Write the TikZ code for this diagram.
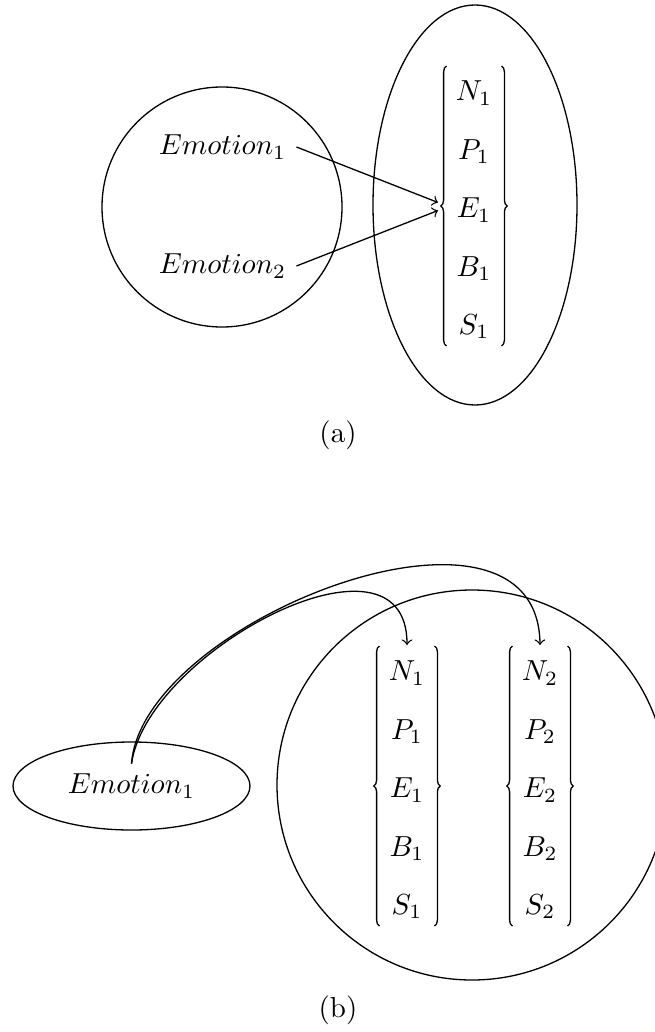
\documentclass[tikz,border=0pt]{standalone}
\usetikzlibrary{calc,decorations.pathreplacing}
\begin{document}
\begin{tikzpicture}[x=0.345pt,y=-0.345pt,
  shapeline/.style={draw, line width=0.45pt},
  link/.style={->, line width=0.45pt},
  col/.style={inner sep=0pt},
  bracestyle/.style={draw, line width=0.45pt, decorate, decoration={brace, amplitude=2pt}}]
\useasboundingbox (0,0) rectangle (655,1032);
% ---------- (a) ----------
\draw[shapeline] (222,207) circle[radius=120];
\draw[shapeline] (475,205) ellipse[x radius=102, y radius=200];
\node (ea1) at (222.5,147) {$Emotion_1$};
\node (ea2) at (222.5,266) {$Emotion_2$};
\node[col] (colA) at (474,206) {\def\arraystretch{1.68}$\begin{array}{c}N_1\\P_1\\E_1\\B_1\\S_1\end{array}$};
\draw[bracestyle] ($(colA.center)+(-27.5,140)$) -- ($(colA.center)+(-27.5,-140)$);
\draw[bracestyle] ($(colA.center)+(27.5,-140)$) -- ($(colA.center)+(27.5,140)$);
\coordinate (ta1) at ($(colA.center)+(-36,-3.5)$);
\coordinate (ta2) at ($(colA.center)+(-36,4.5)$);
\draw[link] (ea1.east) -- (ta1);
\draw[link] (ea2.east) -- (ta2);
\node (la) at (338,435) {(a)};
% ---------- (b) ----------
\draw[shapeline] (131.5,786) ellipse[x radius=118.5, y radius=44];
\draw[shapeline] (472,785) circle[radius=195];
\node (eb) at (131.5,786) {$Emotion_1$};
\node[col] (colB1) at (407,786) {\def\arraystretch{1.68}$\begin{array}{c}N_1\\P_1\\E_1\\B_1\\S_1\end{array}$};
\node[col] (colB2) at (540,786) {\def\arraystretch{1.68}$\begin{array}{c}N_2\\P_2\\E_2\\B_2\\S_2\end{array}$};
\foreach \c in {colB1,colB2}{
  \draw[bracestyle] ($(\c.center)+(-27.5,140)$) -- ($(\c.center)+(-27.5,-140)$);
  \draw[bracestyle] ($(\c.center)+(27.5,-140)$) -- ($(\c.center)+(27.5,140)$);
}
\coordinate (tb1) at ($(colB1.center)+(0,-141)$);
\coordinate (tb2) at ($(colB2.center)+(0,-141)$);
\draw[link] (eb.north) .. controls (148,650) and (407,515) .. (tb1);
\draw[link] (eb.north) .. controls (142,620) and (538,468) .. (tb2);
\node (lb) at (338,1010) {(b)};
\end{tikzpicture}
\end{document}
